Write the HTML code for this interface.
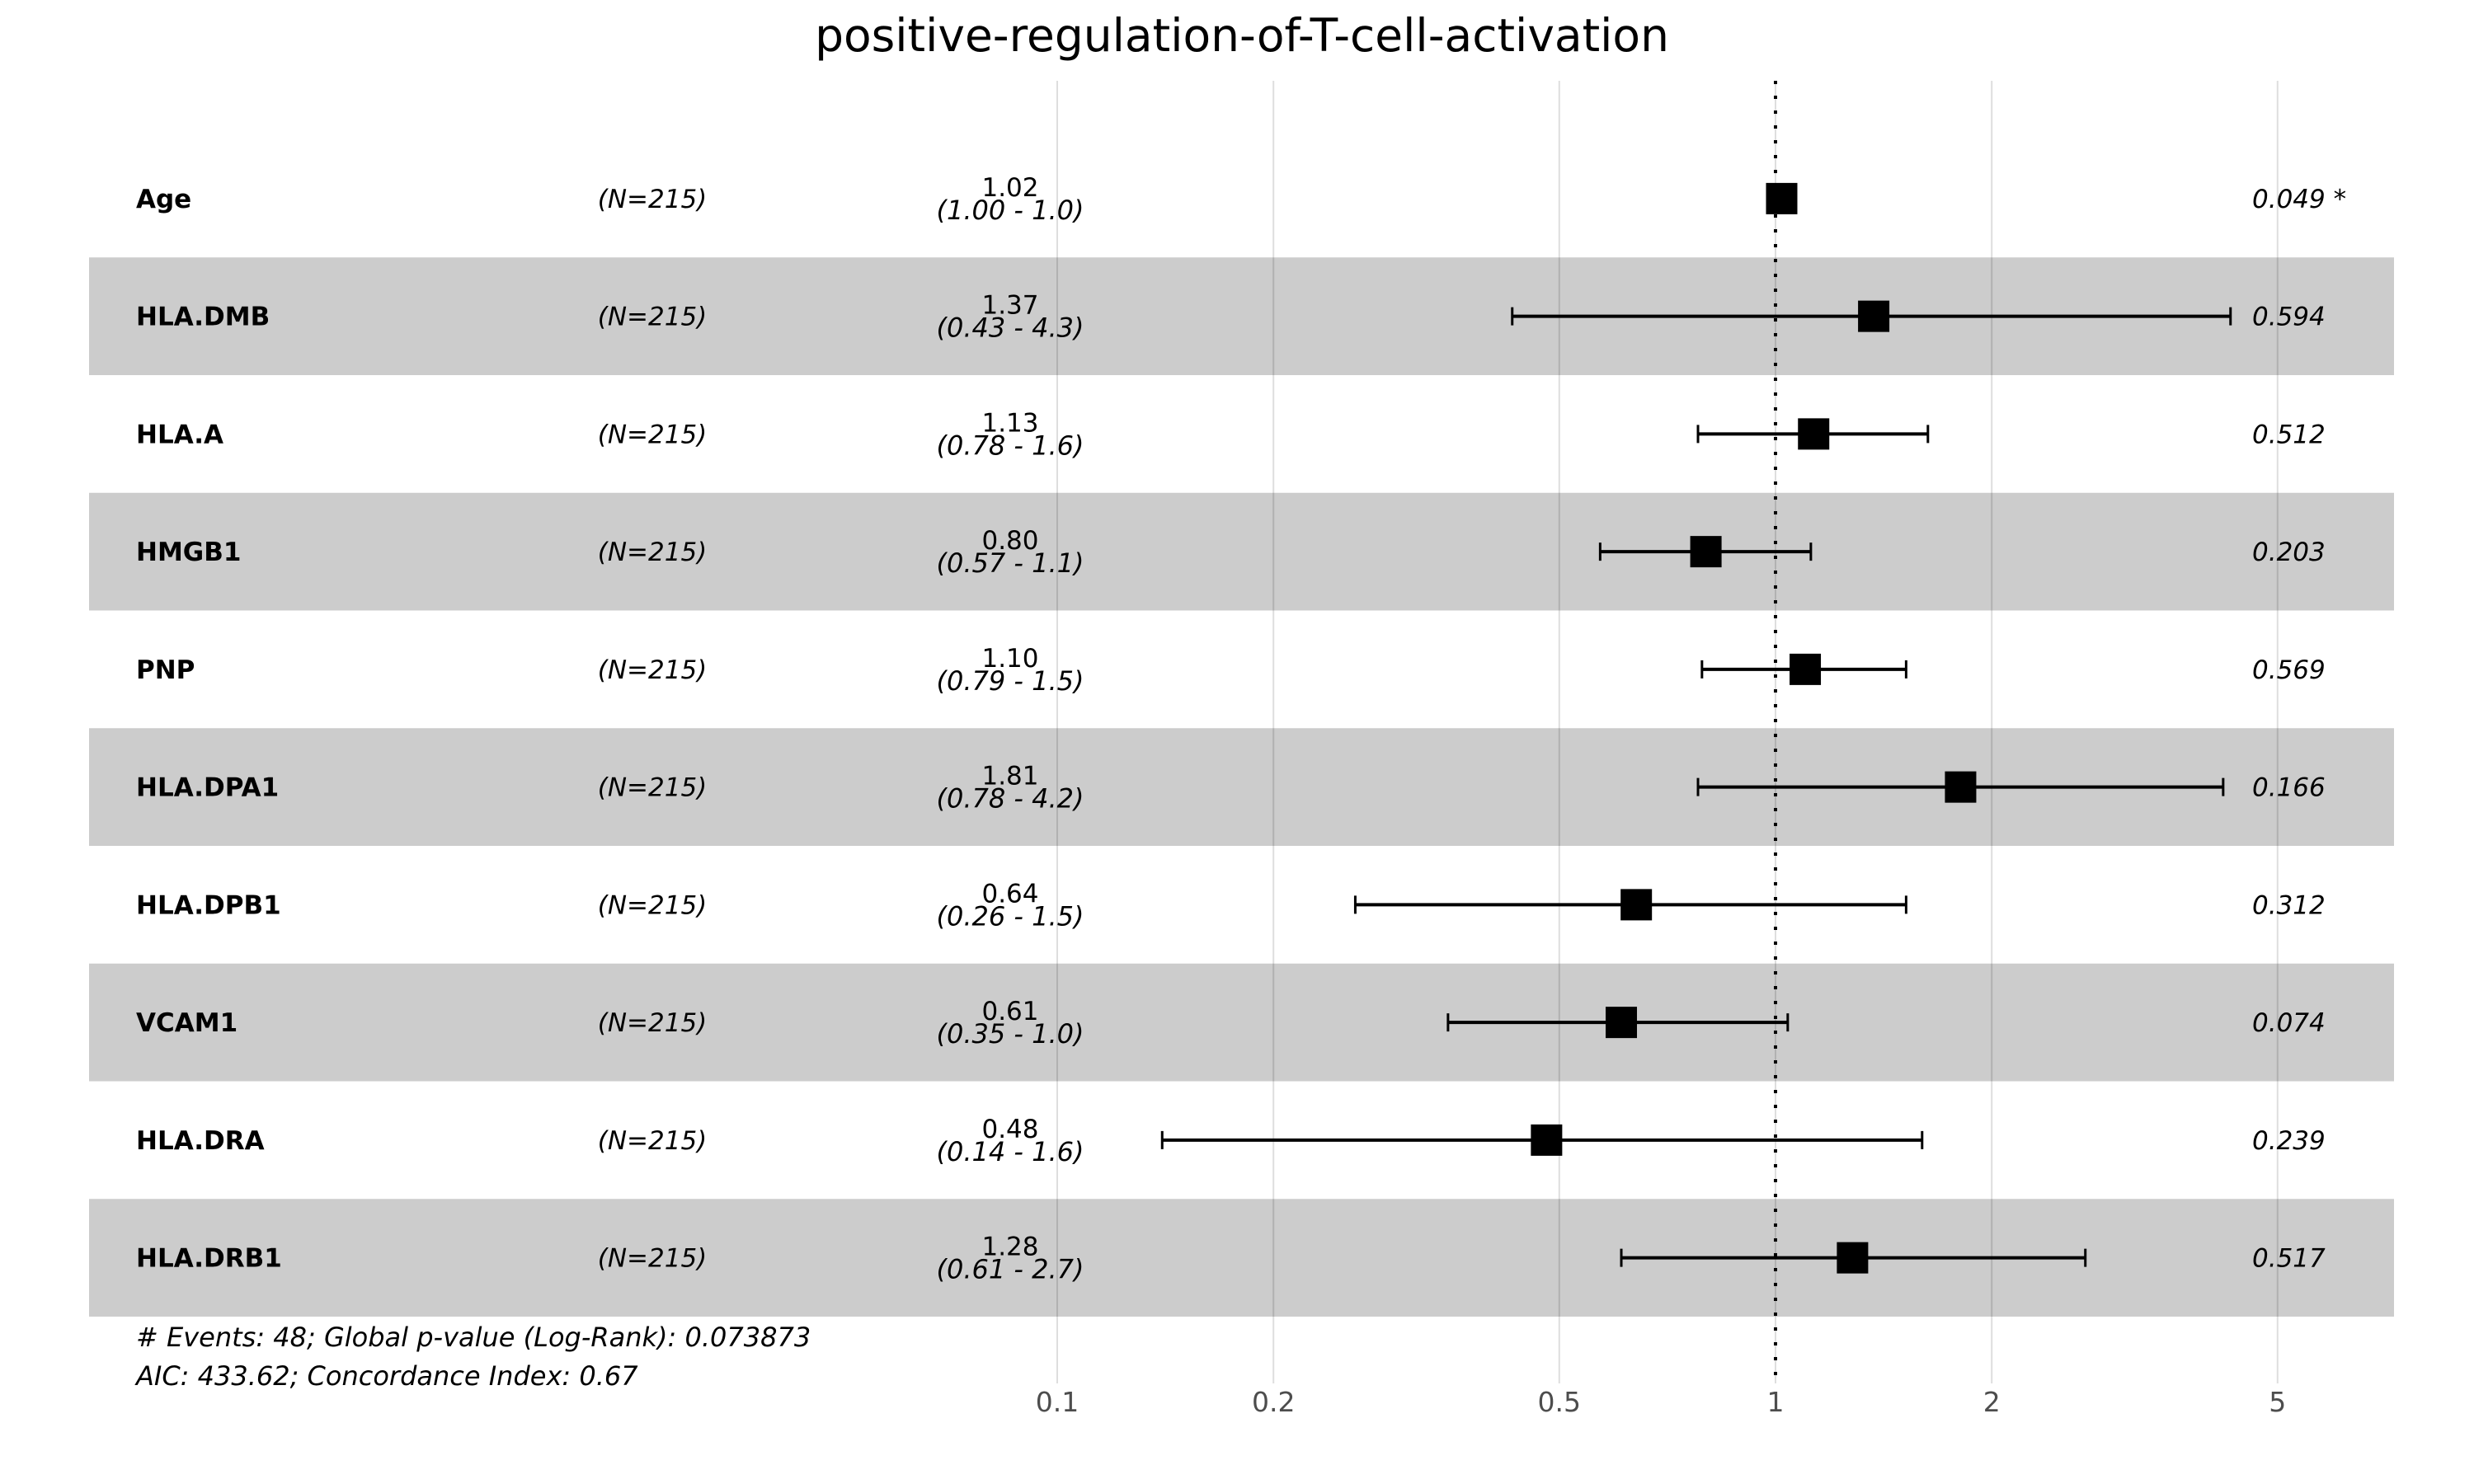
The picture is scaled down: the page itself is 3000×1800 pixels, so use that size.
<!DOCTYPE html>
<html><head><meta charset="utf-8">
<style>
html,body{margin:0;padding:0;background:#fff;}
svg{display:block;font-family:"DejaVu Sans","Liberation Sans",sans-serif;}
</style></head>
<body>
<svg id="chart" width="3000" height="1800" viewBox="0 0 3000 1800" xmlns="http://www.w3.org/2000/svg">
<text x="1506" y="62" font-size="55" text-anchor="middle" fill="#000">positive-regulation-of-T-cell-activation</text>
<g id="bands"></g>
<g id="grid"></g>
<g id="rows"></g>
<g id="marks"></g>
<text x="165" y="1633" font-size="32" font-style="italic">&#35; Events: 48; Global p-value (Log-Rank): 0.073873</text>
<text x="165" y="1680" font-size="32" font-style="italic">AIC: 433.62; Concordance Index: 0.67</text>
</svg>
<script>
const variables = ["Age","HLA.DMB","HLA.A","HMGB1","PNP","HLA.DPA1","HLA.DPB1","VCAM1","HLA.DRA","HLA.DRB1"];
const nLabels = ["(N=215)","(N=215)","(N=215)","(N=215)","(N=215)","(N=215)","(N=215)","(N=215)","(N=215)","(N=215)"];
const hr = [1.02,1.37,1.13,0.80,1.10,1.81,0.64,0.61,0.48,1.28];
const lower = [1.00,0.43,0.78,0.57,0.79,0.78,0.26,0.35,0.14,0.61];
const upper = [1.04,4.3,1.63,1.12,1.52,4.2,1.52,1.04,1.6,2.7];
const hrText = ["1.02","1.37","1.13","0.80","1.10","1.81","0.64","0.61","0.48","1.28"];
const ciText = ["(1.00 - 1.0)","(0.43 - 4.3)","(0.78 - 1.6)","(0.57 - 1.1)","(0.79 - 1.5)","(0.78 - 4.2)","(0.26 - 1.5)","(0.35 - 1.0)","(0.14 - 1.6)","(0.61 - 2.7)"];
const pText = ["0.049 *","0.594","0.512","0.203","0.569","0.166","0.312","0.074","0.239","0.517"];
const ticks = [0.1,0.2,0.5,1,2,5];
const tickLabels = ["0.1","0.2","0.5","1","2","5"];

const NS="http://www.w3.org/2000/svg";
const X0=2153, DEC=871, ROW0=169.5, RH=142.75;
function xs(v){return X0+Math.log10(v)*DEC;}
function yc(i){return ROW0+RH*(i+0.5);}
function mk(tag,attrs,parent,txt){const e=document.createElementNS(NS,tag);for(const k in attrs)e.setAttribute(k,attrs[k]);if(txt!==undefined)e.textContent=txt;parent.appendChild(e);return e;}
const bands=document.getElementById('bands'),grid=document.getElementById('grid'),rows=document.getElementById('rows'),marks=document.getElementById('marks');

variables.forEach((v,i)=>{
  if(i%2===1){
    const b=mk('rect',{x:108,y:ROW0+RH*i,width:2795,height:RH,fill:'#cccccc'},bands);
    
    
  }
});
ticks.forEach((t,j)=>{
  const l=mk('line',{x1:xs(t),x2:xs(t),y1:98,y2:1678,stroke:'rgba(0,0,0,0.13)','stroke-width':2},grid);
  
  
  const tx=mk('text',{x:xs(t),y:1712,'font-size':33,'text-anchor':'middle',fill:'#4d4d4d'},grid,tickLabels[j]);
  
  
});
const ref=mk('line',{x1:xs(1),x2:xs(1),y1:98,y2:1668,stroke:'#000','stroke-width':4,'stroke-dasharray':'4 14'},grid);



variables.forEach((v,i)=>{
  const y=yc(i);
  const a=mk('text',{x:165,y:y+11,'font-size':31,'font-weight':'bold'},rows,v);
  
  
  const n=mk('text',{x:791,y:y+11,'font-size':31,'font-style':'italic','text-anchor':'middle'},rows,nLabels[i]);
  
  
  const h=mk('text',{x:1225,y:y-3,'font-size':31,'text-anchor':'middle'},rows,hrText[i]);
  
  
  const c=mk('text',{x:1225,y:y+25,'font-size':32,'font-style':'italic','text-anchor':'middle'},rows,ciText[i]);
  
  
  const p=mk('text',{x:2731,y:y+11,'font-size':31,'font-style':'italic'},rows,pText[i]);
  
  

  const g=mk('g',{},marks);
  
  
  const x1=xs(lower[i]),x2=xs(upper[i]);
  mk('line',{x1:x1,x2:x2,y1:y,y2:y,stroke:'#000','stroke-width':4},g);
  mk('line',{x1:x1,x2:x1,y1:y-11,y2:y+11,stroke:'#000','stroke-width':3},g);
  mk('line',{x1:x2,x2:x2,y1:y-11,y2:y+11,stroke:'#000','stroke-width':3},g);
  const box=mk('rect',{x:xs(hr[i])-19,y:y-19,width:38,height:38,fill:'#000'},marks);
  
  
});
</script>
</body></html>
